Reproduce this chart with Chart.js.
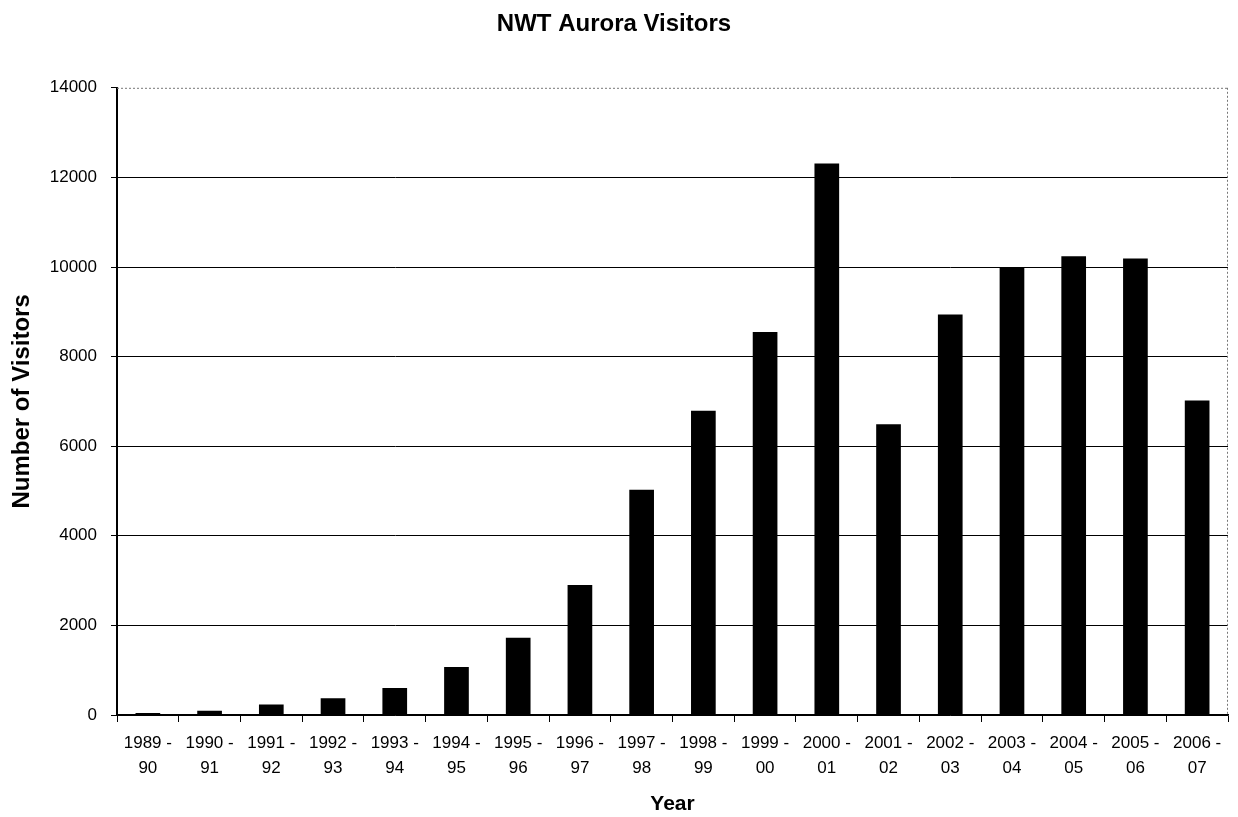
<!DOCTYPE html>
<html>
<head>
<meta charset="utf-8">
<title>NWT Aurora Visitors</title>
<script src="https://cdn.jsdelivr.net/npm/chart.js@4/dist/chart.umd.min.js"></script>
<style>
  html, body { margin: 0; padding: 0; background: #fff; }
  canvas { display: block; }
</style>
</head>
<body>
<canvas id="aurora_chart" width="1238" height="817"></canvas>
<script>
// season labels, two lines each like the original
const seasons = [
    ['1989 -', '90'], ['1990 -', '91'], ['1991 -', '92'], ['1992 -', '93'],
    ['1993 -', '94'], ['1994 -', '95'], ['1995 -', '96'], ['1996 -', '97'],
    ['1997 -', '98'], ['1998 -', '99'], ['1999 -', '00'], ['2000 -', '01'],
    ['2001 -', '02'], ['2002 -', '03'], ['2003 -', '04'], ['2004 -', '05'],
    ['2005 -', '06'], ['2006 -', '07']
];
const visitors = [45, 97, 234, 375, 600, 1072, 1723, 2899, 5030, 6793, 8551, 12310, 6490, 8940, 9980, 10240, 10190, 7020];
const yTicks = [0, 2000, 4000, 6000, 8000, 10000, 12000, 14000];

const FONT = '"Liberation Sans", Arial, sans-serif';

// white page + dotted top / right edge of the plot
const frame = {
    id: 'frame',
    beforeDraw(chart) {
        const c = chart.ctx;
        c.save();
        c.fillStyle = '#fff';
        c.fillRect(0, 0, chart.width, chart.height);
        c.restore();
    },
    afterDraw(chart) {
        const a = chart.chartArea;
        const c = chart.ctx;
        c.save();
        c.strokeStyle = '#777';
        c.lineWidth = 1;
        c.setLineDash([2, 2]);
        c.beginPath();
        c.moveTo(a.left, a.top + 0.5);
        c.lineTo(a.right, a.top + 0.5);
        c.moveTo(a.right - 0.5, a.top);
        c.lineTo(a.right - 0.5, a.bottom);
        c.stroke();
        c.restore();
    }
};

const config = {
    type: 'bar',
    data: {
        labels: seasons,
        datasets: [{
            label: 'Visitors',
            data: visitors,
            backgroundColor: '#000',
            borderWidth: 0,
            barPercentage: 0.4,
            categoryPercentage: 1
        }]
    },
    options: {
        responsive: false,
        animation: false,
        devicePixelRatio: 1,
        layout: { padding: { left: 0, right: 10, top: 0, bottom: 0 } },
        plugins: {
            legend: { display: false },
            tooltip: { enabled: false },
            title: {
                display: true,
                text: 'NWT Aurora Visitors',
                color: '#000',
                font: { family: FONT, size: 24, weight: 'bold' },
                padding: { top: 10, bottom: 49 }
            }
        },
        scales: {
            x: {
                grid: {
                    offset: true,
                    drawOnChartArea: false,
                    color: '#000',
                    tickLength: 7
                },
                border: { color: '#000', width: 1.5 },
                ticks: {
                    color: '#000',
                    font: { family: FONT, size: 17, lineHeight: 1.45 },
                    padding: 9,
                    maxRotation: 0,
                    autoSkip: false
                },
                title: {
                    display: true,
                    text: 'Year',
                    color: '#000',
                    font: { family: FONT, size: 21, weight: 'bold' },
                    padding: { top: 0, bottom: 0 }
                },
                afterFit(scale) { scale.height = 102; }
            },
            y: {
                min: 0,
                max: 14000,
                grid: {
                    color: (ctx) => ctx.tick && ctx.tick.value === 14000 ? 'rgba(0,0,0,0)' : '#000',
                    tickColor: '#000',
                    lineWidth: 1,
                    tickLength: 6
                },
                border: { color: '#000', width: 2 },
                ticks: {
                    color: '#000',
                    font: { family: FONT, size: 17 },
                    padding: 14,
                    stepSize: 2000,
                    callback: (v) => yTicks.includes(v) ? String(v) : ''
                },
                title: {
                    display: true,
                    text: 'Number of Visitors',
                    color: '#000',
                    font: { family: FONT, size: 24, weight: 'bold' },
                    padding: { top: 8, bottom: 0 }
                },
                afterFit(scale) { scale.width = 117; }
            }
        }
    },
    plugins: [frame]
};

const auroraChart = new Chart(document.getElementById('aurora_chart'), config);
</script>
</body>
</html>
